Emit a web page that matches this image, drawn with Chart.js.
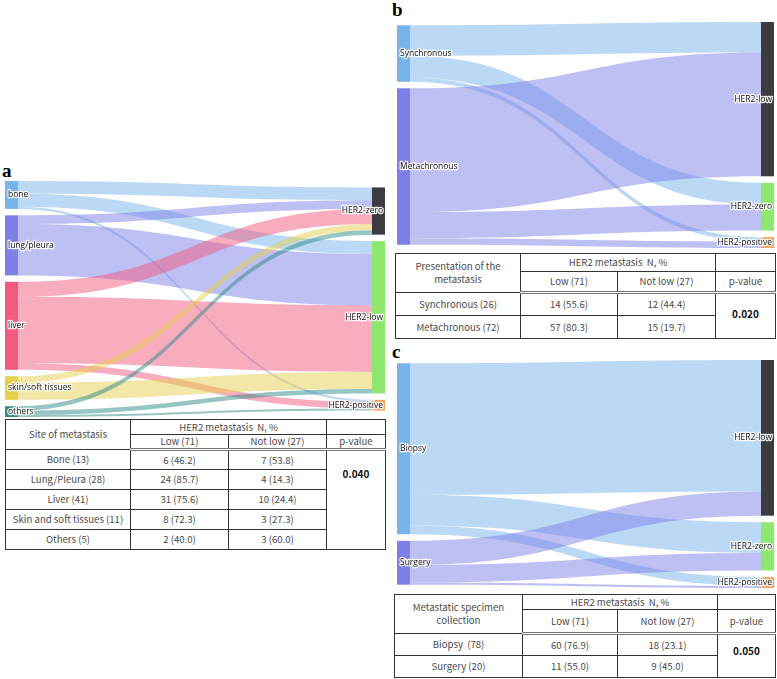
<!DOCTYPE html>
<html>
<head>
<meta charset="utf-8">
<script src="https://cdn.jsdelivr.net/npm/chart.js@4.4.1/dist/chart.umd.min.js"></script>
<style>
    body { margin: 0; background: #fff; width: 777px; height: 679px; position: relative; overflow: hidden; }
    .tag { position: absolute; font: bold 19px/19px "Liberation Serif", serif; color: #000; }
    canvas { position: absolute; }
    table {
        position: absolute; border-collapse: collapse; table-layout: fixed;
        font: 9.6px "Noto Sans CJK SC", sans-serif; color: #4a4a4a;
    }
    td { border: 1px solid #333; text-align: center; padding: 0; line-height: 13px; white-space: nowrap; }
    tr.sub td { border-bottom: 3px double #777; }
    td.pv { font-weight: bold; color: #111; font-size: 10px; }
</style>
</head>
<body>
<div class="tag" style="left:2px;top:161px">a</div>
<div class="tag" style="left:392px;top:0px">b</div>
<div class="tag" style="left:392px;top:342px">c</div>

<canvas id="sankeyA" width="380" height="236" style="left:5px;top:181px"></canvas>
<canvas id="sankeyB" width="377" height="226" style="left:397px;top:22px"></canvas>
<canvas id="sankeyC" width="377" height="228" style="left:397px;top:360px"></canvas>

<table id="tabA" style="left:5px;top:419px;width:380px"></table>
<table id="tabB" style="left:395px;top:253px;width:380px"></table>
<table id="tabC" style="left:394px;top:594px;width:381px"></table>

<script>
/* ── DATA ─────────────────────────────────────────────── */
// a: site of metastasis -> HER2 status (patients)
const siteNames   = ['bone', 'lung/pleura', 'liver', 'skin/soft tissues', 'others'];
const siteTargets = ['HER2-zero', 'HER2-low', 'HER2-positive'];
const siteToZero  = [6, 4, 7, 3, 2];
const siteToLow   = [6, 24, 31, 8, 2];
const siteToPos   = [1, 0, 3, 0, 1];

// b: presentation of the metastasis
const presNames   = ['Synchronous', 'Metachronous'];
const presTargets = ['HER2-low', 'HER2-zero', 'HER2-positive'];
const presToLow   = [14, 57];
const presToZero  = [10, 12];
const presToPos   = [2, 3];

// c: metastatic specimen collection
const specNames   = ['Biopsy', 'Surgery'];
const specTargets = ['HER2-low', 'HER2-zero', 'HER2-positive'];
const specToLow   = [60, 11];
const specToZero  = [14, 8];
const specToPos   = [4, 1];

// tables
const siteRows   = ['Bone (13)', 'Lung/Pleura (28)', 'Liver (41)', 'Skin and soft tissues (11)', 'Others (5)'];
const siteLow    = ['6 (46.2)', '24 (85.7)', '31 (75.6)', '8 (72.3)', '2 (40.0)'];
const siteNotLow = ['7 (53.8)', '4 (14.3)', '10 (24.4)', '3 (27.3)', '3 (60.0)'];
const siteP      = '0.040';

const presRows   = ['Synchronous (26)', 'Metachronous (72)'];
const presLow    = ['14 (55.6)', '57 (80.3)'];
const presNotLow = ['12 (44.4)', '15 (19.7)'];
const presP      = '0.020';

const specRows   = ['Biopsy&nbsp; (78)', 'Surgery (20)'];
const specLow    = ['60 (76.9)', '11 (55.0)'];
const specNotLow = ['18 (23.1)', '9 (45.0)'];
const specP      = '0.050';

/* ── THEME ────────────────────────────────────────────── */
const SRC_COLORS = ['#78b4ec', '#7e80e8', '#f25b7e', '#e6d04e', '#2e8b87'];
const TGT_COLORS = ['#3c3c40', '#8ee870', '#f7a45c'];
const NODE_W = 13;
const GAP = 3;   // node padding, in patient units

function alpha(hex, a) {
    const n = parseInt(hex.slice(1), 16);
    return `rgba(${n >> 16},${(n >> 8) & 255},${n & 255},${a})`;
}

function column(values, max) {
    const span = values.reduce((s, v) => s + v, 0) + GAP * (values.length - 1);
    let pos = (max - span) / 2;
    return values.map(v => { const n = { y0: pos, y1: pos + v }; pos += v + GAP; return n; });
}

function label(ctx, text, x, y, align) {
    ctx.font = '8.5px "Open Sans", sans-serif';
    ctx.textAlign = align;
    ctx.textBaseline = 'middle';
    ctx.lineJoin = 'round';
    ctx.lineWidth = 2.5;
    ctx.strokeStyle = 'rgba(255,255,255,0.9)';
    ctx.strokeText(text, x, y);
    ctx.fillStyle = '#111';
    ctx.fillText(text, x, y);
}

/* ── SANKEY PLUGIN (draws through the chart's x / y scales) ── */
const sankeyPlugin = {
    id: 'sankey',
    afterDatasetsDraw(chart, args, o) {
        const { ctx, scales: { x, y } } = chart;
        const flows = o.flows;                  // flows[target][source]
        const srcTot = o.sources.map((_, i) => flows.reduce((s, f) => s + f[i], 0));
        const tgtTot = flows.map(f => f.reduce((s, v) => s + v, 0));
        const max = y.max;
        const src = column(srcTot, max), tgt = column(tgtTot, max);

        const xl = x.getPixelForValue(0), xr = x.getPixelForValue(1);
        const x0 = xl + NODE_W, x1 = xr - NODE_W, xm = (x0 + x1) / 2;

        // links
        const sOff = src.map(n => n.y0), tOff = tgt.map(n => n.y0);
        const links = [];
        o.sources.forEach((_, i) => flows.forEach((f, j) => {
            const v = f[i];
            if (!v) return;
            links.push({ i, j, s0: sOff[i], t0: tOff[j], v });
            sOff[i] += v; tOff[j] += v;
        }));
        ctx.save();
        links.forEach(l => {
            const a0 = y.getPixelForValue(l.s0), a1 = y.getPixelForValue(l.s0 + l.v);
            const b0 = y.getPixelForValue(l.t0), b1 = y.getPixelForValue(l.t0 + l.v);
            ctx.beginPath();
            ctx.moveTo(x0, a0);
            ctx.bezierCurveTo(xm, a0, xm, b0, x1, b0);
            ctx.lineTo(x1, b1);
            ctx.bezierCurveTo(xm, b1, xm, a1, x0, a1);
            ctx.closePath();
            ctx.fillStyle = alpha(SRC_COLORS[l.i], 0.5);
            ctx.fill();
        });

        // nodes
        src.forEach((n, i) => {
            ctx.fillStyle = SRC_COLORS[i];
            ctx.fillRect(xl, y.getPixelForValue(n.y0), NODE_W, y.getPixelForValue(n.y1) - y.getPixelForValue(n.y0));
        });
        tgt.forEach((n, j) => {
            ctx.fillStyle = TGT_COLORS[j];
            ctx.fillRect(x1, y.getPixelForValue(n.y0), NODE_W, y.getPixelForValue(n.y1) - y.getPixelForValue(n.y0));
        });

        // labels
        src.forEach((n, i) => label(ctx, o.sources[i], xl + 3, y.getPixelForValue((n.y0 + n.y1) / 2), 'left'));
        tgt.forEach((n, j) => label(ctx, o.targets[j], xr - 2, y.getPixelForValue((n.y0 + n.y1) / 2), 'right'));
        ctx.restore();
    }
};

function sankey(id, sources, targets, flows) {
    const total = flows.reduce((s, f) => s + f.reduce((a, b) => a + b, 0), 0);
    const nMax = Math.max(sources.length, targets.length);
    new Chart(document.getElementById(id), {
        type: 'scatter',
        data: { datasets: [] },
        plugins: [sankeyPlugin],
        options: {
            responsive: false,
            animation: false,
            layout: { padding: 0 },
            plugins: {
                legend: { display: false },
                tooltip: { enabled: false },
                sankey: { sources, targets, flows }
            },
            scales: {
                x: { type: 'linear', min: 0, max: 1, display: false },
                y: { type: 'linear', min: 0, max: total + GAP * (nMax - 1), reverse: true, display: false }
            }
        }
    });
}

sankey('sankeyA', siteNames, siteTargets, [siteToZero, siteToLow, siteToPos]);
sankey('sankeyB', presNames, presTargets, [presToLow, presToZero, presToPos]);
sankey('sankeyC', specNames, specTargets, [specToLow, specToZero, specToPos]);

/* ── TABLES ───────────────────────────────────────────── */
function buildTable(id, cols, heights, title, rows, low, notLow, p, pStyle) {
    const t = document.getElementById(id);
    let h = '<colgroup>' + cols.map(w => `<col style="width:${w}px">`).join('') + '</colgroup>';
    h += `<tr style="height:${heights[0]}px"><td rowspan="2">${title}</td><td colspan="2">HER2 metastasis&nbsp; N, %</td><td></td></tr>`;
    h += `<tr class="sub" style="height:${heights[1]}px"><td>Low (71)</td><td>Not low (27)</td><td>p-value</td></tr>`;
    rows.forEach((r, i) => {
        h += `<tr style="height:${heights[2]}px"><td>${r}</td><td>${low[i]}</td><td>${notLow[i]}</td>`;
        if (i === 0) h += `<td class="pv" rowspan="${rows.length}" style="${pStyle}">${p}</td>`;
        h += '</tr>';
    });
    t.innerHTML = h;
}

buildTable('tabA', [125, 98, 98, 59], [15, 14, 20], 'Site of metastasis',
    siteRows, siteLow, siteNotLow, siteP, 'vertical-align:top;padding-top:16px');
buildTable('tabB', [125, 97, 98, 60], [18, 21, 23], 'Presentation of the<br>metastasis',
    presRows, presLow, presNotLow, presP, 'vertical-align:middle;padding-bottom:6px');
buildTable('tabC', [128, 95, 100, 58], [15, 24, 22], 'Metastatic specimen<br>collection',
    specRows, specLow, specNotLow, specP, 'vertical-align:middle;padding-bottom:12px');
</script>
</body>
</html>
